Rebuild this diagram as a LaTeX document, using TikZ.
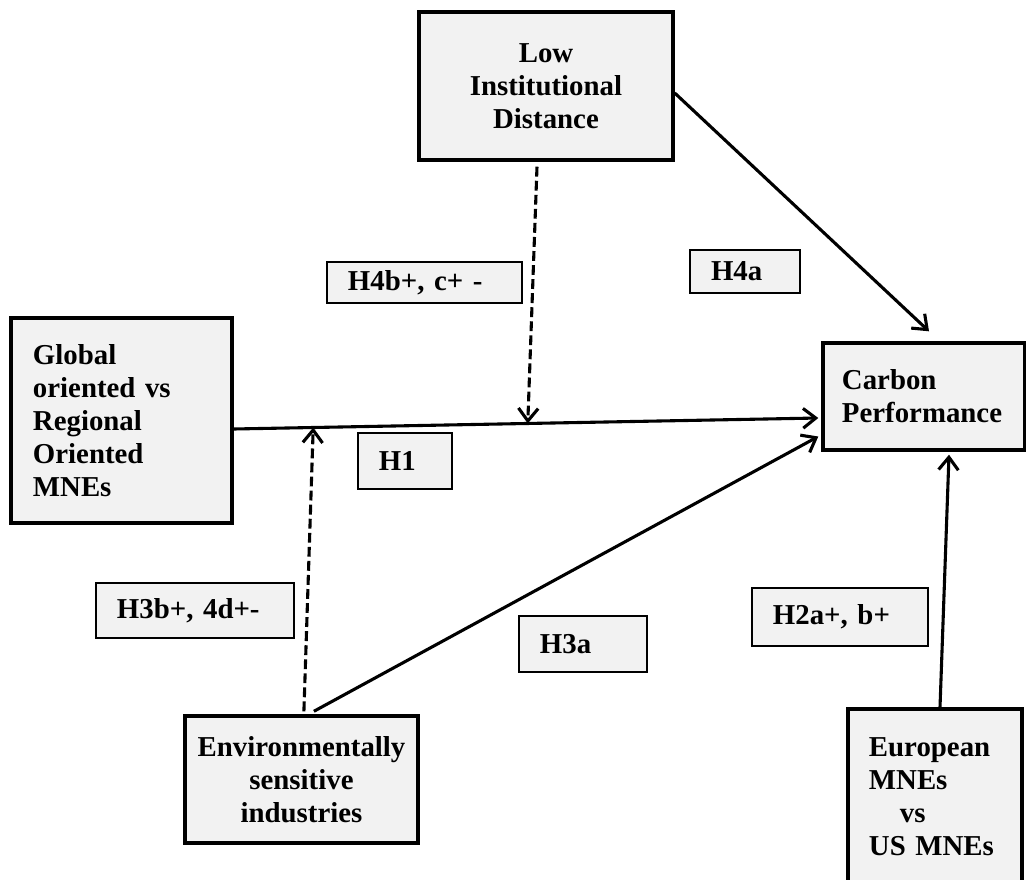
\documentclass[tikz,border=0pt]{standalone}
\usepackage{fontspec}
\setmainfont{Liberation Serif}
\usepackage{xcolor}
\usepackage{tikz}
\usetikzlibrary{
  arrows.meta,
  positioning
}
\definecolor{BoxGray}{RGB}{242, 242, 242}
\tikzset{
    mainbox/.style={rectangle, draw=black, fill=BoxGray, line width=2.4pt, inner sep=0pt,
        font=\fontsize{20.5}{23.5}\selectfont\bfseries},
    hypbox/.style={rectangle, draw=black, fill=BoxGray, line width=1.7pt, inner sep=0pt, align=left,
        font=\fontsize{20.5}{23.5}\selectfont\bfseries},
    link/.style={line width=2.2pt, -{Straight Barb[length=9pt, width=14pt]}},
    modlink/.style={link, dash pattern=on 7pt off 3pt}
}

\begin{document}
\begin{tikzpicture}[x=0.025cm, y=-0.025cm]
            \useasboundingbox (0,0) rectangle (1026,880);
            % constructs
            \node[mainbox, minimum width=6.35cm, minimum height=3.7cm, text width=6cm, align=center] (lowdist) at (546,86) {Low\\Institutional\\Distance};
            \node[mainbox, minimum width=5.525cm, minimum height=5.125cm, text width=4.425cm, align=left] (global) at (121.5,420.5) {Global\\oriented vs\\Regional\\Oriented\\MNEs};
            \node[mainbox, minimum width=5.05cm, minimum height=2.675cm, text width=4.1cm, align=left] (carbon) at (924,396.5) {Carbon\\Performance};
            \node[mainbox, minimum width=4.35cm, minimum height=4.375cm, text width=3.3cm, align=left] (european) at (935,796.5) {European\\MNEs\\\hspace*{22pt}vs\\US MNEs};
            \node[mainbox, minimum width=5.825cm, minimum height=3.175cm, text width=5.4cm, align=center] (envsens) at (301.5,779.5) {Environmentally\\sensitive\\industries};
            % hypotheses
            \node[hypbox, minimum width=4.875cm, minimum height=1.025cm, text width=3.825cm] (hfourbc) at (424.5,282.5) {H4b+, c+ -};
            \node[hypbox, minimum width=2.75cm, minimum height=1.075cm, text width=1.7cm] (hfoura) at (745,271.5) {H4a};
            \node[hypbox, minimum width=2.35cm, minimum height=1.4cm, text width=1.3cm] (hone) at (405,461) {H1};
            \node[hypbox, minimum width=4.95cm, minimum height=1.375cm, text width=3.9cm] (hthreeb) at (195,610.5) {H3b+, 4d+-};
            \node[hypbox, minimum width=3.2cm, minimum height=1.4cm, text width=2.15cm] (hthreea) at (583,644) {H3a};
            \node[hypbox, minimum width=4.4cm, minimum height=1.45cm, text width=3.35cm] (htwo) at (840,617) {H2a+, b+};
            % links
            \draw[link] ([yshift=-0.2125cm]global.east) -- coordinate[pos=0.136] (hitB) coordinate[pos=0.503] (hitA) ([xshift=-0.075cm, yshift=-0.5375cm]carbon.west);
            \draw[modlink] ([xshift=-0.225cm, yshift=-0.125cm]lowdist.south) -- (hitA);
            \draw[modlink] ([xshift=0.06cm, yshift=0.075cm]envsens.north) -- (hitB);
            \draw[link] ([xshift=0.31cm, yshift=0.075cm]envsens.north) -- ([xshift=-0.075cm, yshift=-1.0cm]carbon.west);
            \draw[link] ([yshift=-0.175cm]lowdist.east) -- ([xshift=0.125cm, yshift=0.25cm]carbon.north);
            \draw[link] ([xshift=0.125cm]european.north) -- ([xshift=0.625cm, yshift=-0.075cm]carbon.south);
        \end{tikzpicture}
\end{document}
